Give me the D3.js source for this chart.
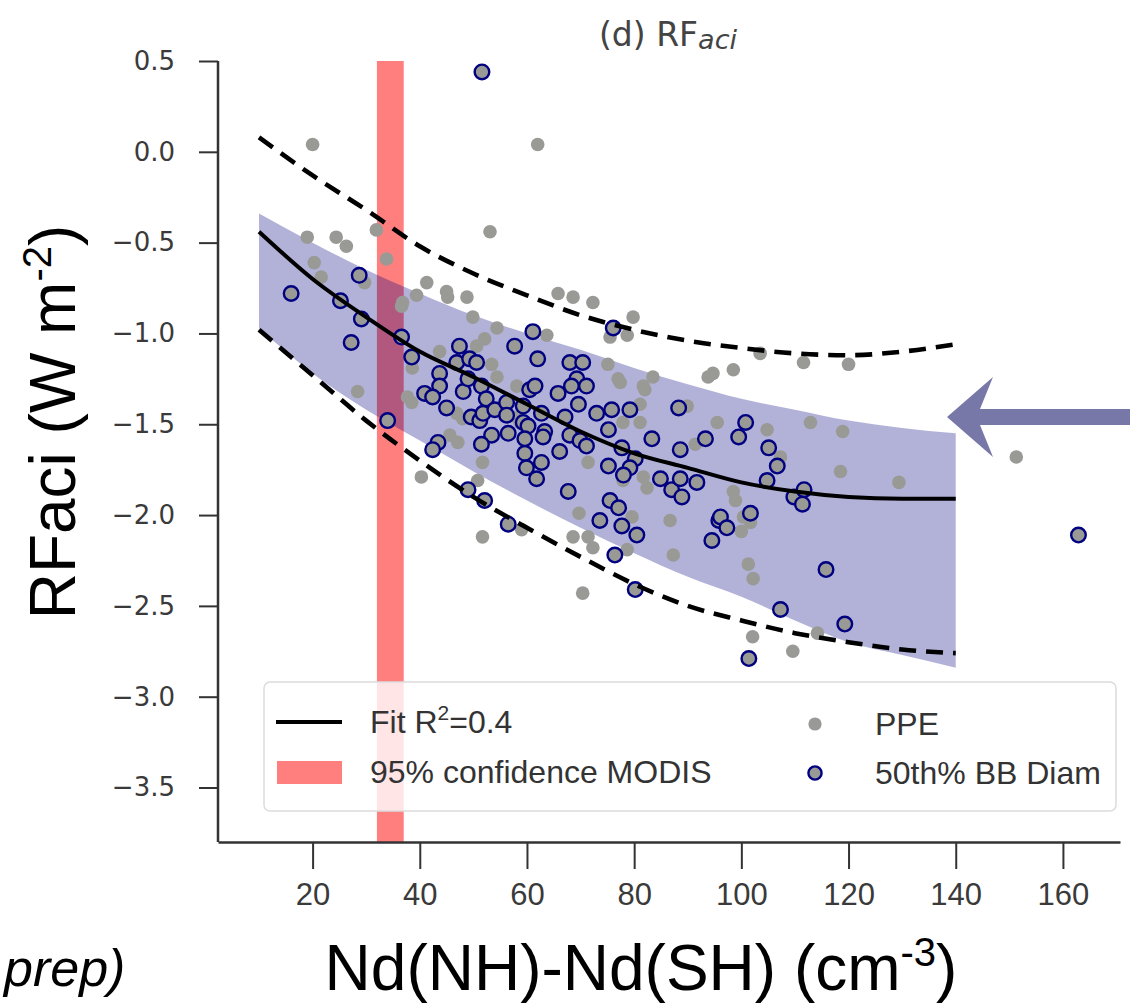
<!DOCTYPE html>
<html>
<head>
<meta charset="utf-8">
<script src="https://cdn.jsdelivr.net/npm/d3@7"></script>
<style>
  body { margin: 0; background: #fff; }
  svg { display: block; }
</style>
</head>
<body>
<div id="chart"></div>
<script>
// fitted curves at these x positions
var curveX = [10, 20, 30, 40, 50, 60, 70, 80, 90, 100, 110, 120, 130, 140];
var fitY = [-0.44, -0.70, -0.91, -1.10, -1.24, -1.39, -1.54, -1.66, -1.74, -1.82, -1.87, -1.90, -1.91, -1.91];
var upperY = [0.08, -0.13, -0.32, -0.52, -0.67, -0.79, -0.90, -0.98, -1.04, -1.08, -1.11, -1.12, -1.10, -1.06];
var lowerY = [-0.98, -1.23, -1.48, -1.70, -1.90, -2.07, -2.23, -2.38, -2.50, -2.58, -2.65, -2.70, -2.74, -2.76];
var bandTop = [-0.34, -0.50, -0.65, -0.78, -0.90, -1.00, -1.09, -1.19, -1.28, -1.36, -1.42, -1.48, -1.52, -1.55];
var bandBottom = [-0.97, -1.22, -1.42, -1.59, -1.76, -1.92, -2.07, -2.21, -2.34, -2.45, -2.58, -2.70, -2.77, -2.84];

var modisRange = [32, 37];

// PPE members (grey)
var ppePoints = [
  [20.0, 0.04], [62.0, 0.04], [19.0, -0.47], [24.4, -0.47], [26.3, -0.52], [31.9, -0.43], [53.1, -0.44],
  [20.3, -0.61], [21.6, -0.69], [33.8, -0.59], [29.7, -0.72], [41.3, -0.72], [45.0, -0.77], [45.2, -0.80],
  [48.8, -0.80], [36.8, -0.83], [39.4, -0.79], [36.6, -0.85], [49.9, -0.91], [54.4, -0.97], [52.1, -1.03],
  [65.8, -0.78], [68.6, -0.80], [72.3, -0.83], [79.8, -0.91], [75.5, -1.02], [78.7, -1.01], [63.7, -1.01],
  [43.7, -1.10], [50.6, -1.07], [53.4, -1.17], [75.1, -1.17], [38.6, -1.19], [54.4, -1.24], [77.0, -1.25],
  [83.5, -1.24], [82.0, -1.31], [93.8, -1.24], [94.7, -1.22], [98.5, -1.20], [103.5, -1.11], [111.6, -1.16],
  [120.0, -1.17], [58.1, -1.29], [37.7, -1.35], [38.5, -1.38], [46.9, -1.44], [48.0, -1.47], [58.1, -1.46],
  [58.7, -1.49], [77.9, -1.49], [81.1, -1.49], [89.9, -1.40], [95.5, -1.49], [104.8, -1.53], [112.9, -1.49],
  [118.9, -1.54], [45.6, -1.56], [47.1, -1.60], [51.7, -1.71], [50.8, -1.81], [71.4, -1.71], [40.3, -1.79],
  [77.9, -1.81], [81.7, -1.79], [82.4, -1.85], [91.4, -1.61], [107.3, -1.68], [98.5, -1.87], [69.7, -1.99],
  [79.6, -2.01], [86.7, -2.03], [100.4, -2.01], [101.7, -2.04], [51.7, -2.12], [59.0, -2.08], [68.6, -2.12],
  [71.4, -2.12], [72.3, -2.18], [70.4, -2.43], [78.7, -2.19], [87.3, -2.22], [81.1, -1.39], [77.4, -1.27],
  [81.7, -1.29], [129.4, -1.82], [118.5, -1.76], [151.3, -1.68], [101.3, -2.27], [102.2, -2.35], [102.1, -2.67],
  [109.6, -2.75], [114.2, -2.65], [100.0, -2.09], [98.9, -1.92], [28.4, -1.32]
];

// members inside the 50th percentile of BB diameter (navy edge)
var bbPoints = [
  [16.0, -0.78], [28.7, -0.68], [25.2, -0.82], [29.1, -0.92], [27.2, -1.05], [36.6, -1.02], [38.5, -1.13],
  [47.4, -1.07], [61.1, -0.99], [57.7, -1.07], [76.1, -0.97], [46.9, -1.16], [49.3, -1.14], [50.6, -1.16],
  [62.0, -1.14], [68.0, -1.16], [70.4, -1.16], [51.6, 0.44], [43.7, -1.22], [43.7, -1.29], [40.9, -1.33],
  [42.4, -1.35], [48.1, -1.32], [49.0, -1.25], [51.5, -1.29], [45.0, -1.41], [52.4, -1.36], [49.6, -1.46],
  [51.2, -1.48], [51.8, -1.44], [54.0, -1.42], [56.2, -1.38], [56.2, -1.45], [60.5, -1.31], [61.5, -1.29],
  [59.3, -1.40], [59.3, -1.49], [62.7, -1.44], [60.2, -1.51], [56.5, -1.55], [53.4, -1.56], [51.5, -1.61],
  [43.4, -1.60], [42.4, -1.64], [59.6, -1.58], [59.6, -1.66], [59.9, -1.74], [61.8, -1.80], [62.7, -1.71],
  [63.3, -1.54], [63.0, -1.57], [66.1, -1.65], [67.1, -1.46], [65.8, -1.33], [69.3, -1.25], [68.3, -1.29],
  [71.1, -1.29], [69.6, -1.39], [68.0, -1.56], [69.9, -1.59], [71.1, -1.62], [73.0, -1.44], [75.8, -1.42],
  [75.2, -1.53], [79.2, -1.42], [67.7, -1.87], [75.2, -1.73], [77.7, -1.63], [80.2, -1.69], [79.2, -1.74],
  [78.0, -1.78], [75.5, -1.92], [77.1, -1.96], [73.6, -2.03], [77.7, -2.06], [80.5, -2.11], [83.3, -1.58],
  [84.9, -1.80], [87.0, -1.86], [88.6, -1.64], [88.3, -1.41], [88.6, -1.80], [88.9, -1.90], [91.7, -1.82],
  [93.3, -1.58], [100.8, -1.49], [99.5, -1.57], [105.1, -1.63], [106.7, -1.73], [104.8, -1.81], [109.8, -1.90],
  [111.7, -1.86], [111.4, -1.94], [101.7, -1.99], [95.8, -2.03], [96.1, -2.01], [97.3, -2.07], [94.5, -2.14],
  [49.0, -1.86], [52.1, -1.92], [56.5, -2.05], [34.0, -1.48], [76.4, -2.22], [80.2, -2.41], [115.8, -2.30],
  [107.3, -2.52], [119.3, -2.60], [101.4, -2.79], [162.9, -2.11]
];

var xTicks = [20, 40, 60, 80, 100, 120, 140, 160];
var yTicks = [0.5, 0.0, -0.5, -1.0, -1.5, -2.0, -2.5, -3.0, -3.5];
var xDomain = [2.35, 170.65];
var yDomain = [-3.8, 0.5];

var width = 1130,
    height = 1006,
    margin = { left: 218, right: 10, top: 61, bottom: 164 };

var grey = "#999a96";

var svg = d3.select("#chart").append("svg")
    .attr("width", width)
    .attr("height", height)
    .style("font-family", "'Liberation Sans', Arial, sans-serif");

svg.append("rect").attr("width", width).attr("height", height).attr("fill", "#fff");

var x = d3.scaleLinear().domain(xDomain).range([margin.left, width - margin.right]);
var y = d3.scaleLinear().domain(yDomain).range([height - margin.bottom, margin.top]);

var curve = curveX.map(function (d, i) {
    return { x: d, fit: fitY[i], up: upperY[i], lo: lowerY[i], top: bandTop[i], bot: bandBottom[i] };
});

// MODIS 95% range
svg.append("rect")
    .attr("x", x(modisRange[0]))
    .attr("width", x(modisRange[1]) - x(modisRange[0]))
    .attr("y", y(yDomain[1]))
    .attr("height", y(yDomain[0]) - y(yDomain[1]))
    .attr("fill", "red")
    .attr("fill-opacity", 0.5);

// shaded band
var area = d3.area()
    .x(function (d) { return x(d.x); })
    .y0(function (d) { return y(d.bot); })
    .y1(function (d) { return y(d.top); })
    .curve(d3.curveMonotoneX);

svg.append("path")
    .datum(curve)
    .attr("d", area)
    .attr("fill", "navy")
    .attr("fill-opacity", 0.3);

// points
svg.append("g").selectAll("circle")
    .data(ppePoints)
    .enter().append("circle")
    .attr("cx", function (d) { return x(d[0]); })
    .attr("cy", function (d) { return y(d[1]); })
    .attr("r", 6.8)
    .attr("fill", grey);

svg.append("g").selectAll("circle")
    .data(bbPoints)
    .enter().append("circle")
    .attr("cx", function (d) { return x(d[0]); })
    .attr("cy", function (d) { return y(d[1]); })
    .attr("r", 7.3)
    .attr("fill", grey)
    .attr("stroke", "navy")
    .attr("stroke-width", 2.4);

// fit and its bounds
function lineFor(key) {
    return d3.line()
        .x(function (d) { return x(d.x); })
        .y(function (d) { return y(d[key]); })
        .curve(d3.curveMonotoneX);
}

svg.append("path").datum(curve).attr("d", lineFor("fit"))
    .attr("fill", "none").attr("stroke", "#000").attr("stroke-width", 4);
["up", "lo"].forEach(function (k) {
    svg.append("path").datum(curve).attr("d", lineFor(k))
        .attr("fill", "none").attr("stroke", "#000").attr("stroke-width", 4.6)
        .attr("stroke-dasharray", "17,10");
});

// axes
var yAxis = svg.append("g")
    .attr("transform", "translate(" + margin.left + ",0)")
    .call(d3.axisLeft(y).tickValues(yTicks).tickFormat(d3.format(".1f")).tickSize(19).tickPadding(24));
var xAxis = svg.append("g")
    .attr("transform", "translate(0," + (height - margin.bottom) + ")")
    .call(d3.axisBottom(x).tickValues(xTicks).tickSize(27).tickPadding(14).tickSizeOuter(0));

yAxis.select(".domain").attr("d", "M0," + y(yDomain[1]) + "V" + y(yDomain[0]));
[xAxis, yAxis].forEach(function (a) {
    a.select(".domain").attr("stroke", "#333").attr("stroke-width", 2.5);
    a.selectAll(".tick line").attr("stroke", "#333").attr("stroke-width", 2);
    a.selectAll(".tick text").attr("fill", "#3a3a3a");
});
yAxis.selectAll(".tick text").style("font-family", "'DejaVu Sans', sans-serif").attr("font-size", 26);
xAxis.selectAll(".tick text").attr("font-size", 31);

// legend
var lg = svg.append("g");
lg.append("rect")
    .attr("x", 264).attr("y", 682).attr("width", 852).attr("height", 129)
    .attr("rx", 6)
    .attr("fill", "#fff").attr("fill-opacity", 0.8)
    .attr("stroke", "#dcdcdc").attr("stroke-width", 1.5);
lg.append("line").attr("x1", 276).attr("x2", 342).attr("y1", 722).attr("y2", 722)
    .attr("stroke", "#000").attr("stroke-width", 4);
lg.append("rect").attr("x", 277).attr("y", 761).attr("width", 65).attr("height", 23)
    .attr("fill", "red").attr("fill-opacity", 0.5);
lg.append("circle").attr("cx", 815).attr("cy", 724).attr("r", 6.6).attr("fill", grey);
lg.append("circle").attr("cx", 815).attr("cy", 773).attr("r", 6.6).attr("fill", grey)
    .attr("stroke", "navy").attr("stroke-width", 2.4);

var fitText = lg.append("text").attr("x", 370).attr("y", 733).attr("font-size", 32).attr("fill", "#333");
fitText.append("tspan").text("Fit R");
fitText.append("tspan").attr("dy", -13).attr("font-size", 21).text("2");
fitText.append("tspan").attr("dy", 13).text("=0.4");
lg.append("text").attr("x", 370).attr("y", 783).attr("font-size", 32).attr("fill", "#333")
    .text("95% confidence MODIS");
lg.append("text").attr("x", 875).attr("y", 735).attr("font-size", 32).attr("fill", "#333").text("PPE");
lg.append("text").attr("x", 875).attr("y", 784).attr("font-size", 32).attr("fill", "#333").text("50th% BB Diam");

// title
var title = svg.append("text")
    .attr("x", 668).attr("y", 46)
    .attr("text-anchor", "middle")
    .attr("font-size", 33)
    .attr("fill", "#444")
    .style("font-family", "'DejaVu Sans', sans-serif");
title.append("tspan").text("(d) RF");
title.append("tspan").attr("font-style", "italic").attr("font-size", 27).attr("dy", 3).text("aci");

// axis labels
var yl = svg.append("text")
    .attr("transform", "translate(75,422) rotate(-90)")
    .attr("text-anchor", "middle")
    .attr("font-size", 64)
    .attr("fill", "#000");
yl.append("tspan").text("RFaci (W m");
yl.append("tspan").attr("dy", -24).attr("font-size", 40).text("-2");
yl.append("tspan").attr("dy", 24).text(")");

var xl = svg.append("text")
    .attr("x", 641).attr("y", 990)
    .attr("text-anchor", "middle")
    .attr("font-size", 64)
    .attr("fill", "#000");
xl.append("tspan").text("Nd(NH)-Nd(SH) (cm");
xl.append("tspan").attr("dy", -24).attr("font-size", 40).text("-3");
xl.append("tspan").attr("dy", 24).text(")");

svg.append("text")
    .attr("x", 4).attr("y", 986)
    .attr("font-size", 52)
    .attr("font-style", "italic")
    .attr("fill", "#000")
    .text("prep)");

// annotation arrow
svg.append("path")
    .attr("d", "M947,417 L993,377 L980,409 L1130,409 L1130,425 L980,425 L993,457 Z")
    .attr("fill", "#7878a8");
</script>
</body>
</html>
